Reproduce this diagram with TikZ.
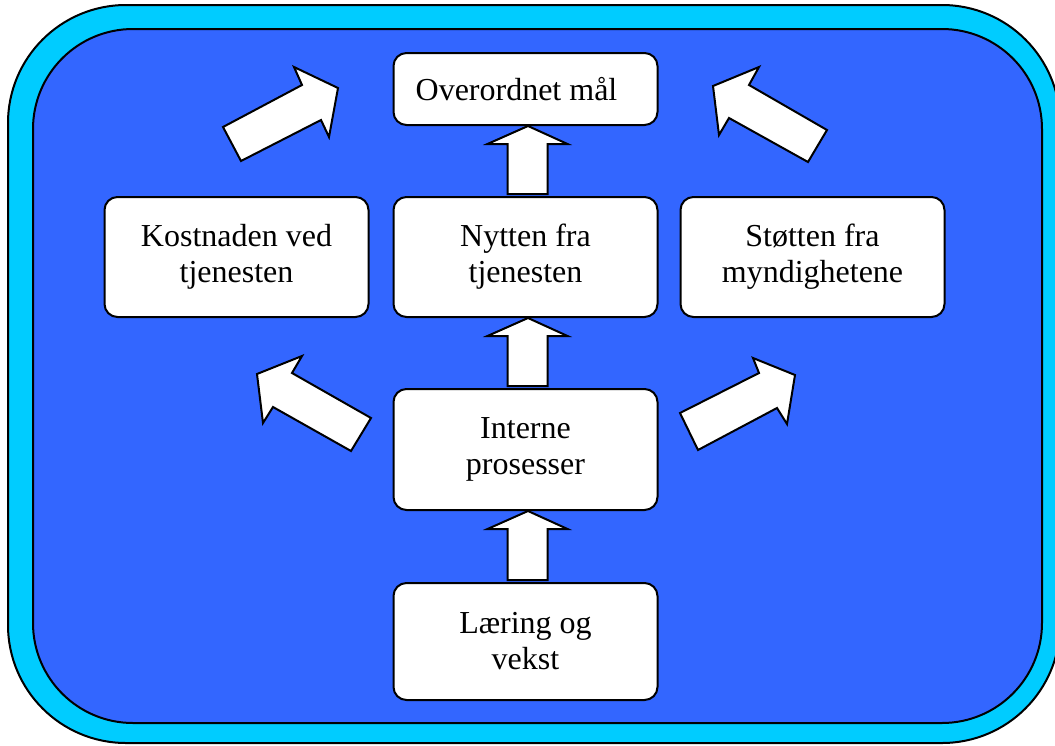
\documentclass[tikz,border=0pt]{standalone}
\usepackage{fontspec}
\setmainfont{Liberation Serif}
\usetikzlibrary{calc}
\definecolor{frameCyan}{HTML}{00CCFF}
\definecolor{panelBlue}{HTML}{3366FF}
\begin{document}
\begin{tikzpicture}[x=1pt,y=-1pt,
  card/.style={draw=black, line width=2pt, fill=white, rounded corners=13pt,
    minimum width=264pt, minimum height=120pt, align=center,
    font=\fontsize{32}{36}\selectfont, inner sep=0pt},
  blockarrow/.style={draw=black, line width=2pt, fill=white, line join=miter}]
\useasboundingbox (0,0) rectangle (1055,745);

% frame and panel
\draw[line width=2pt, fill=frameCyan, rounded corners=118pt] (8,5) rectangle (1060,743);
\draw[line width=2pt, fill=panelBlue, rounded corners=100pt] (33,29) rectangle (1042,723);

% boxes
\node[card, minimum height=72pt] (goal) at (525.5,89) {\hspace*{-18pt}Overordnet mål};
\node[card] (cost)    at (236.5,257) {Kostnaden ved\\tjenesten};
\node[card] (benefit) at (525.5,257) {Nytten fra\\tjenesten};
\node[card] (support) at (812.5,257) {Støtten fra\\myndighetene};
\node[card, minimum height=121pt] (internal) at (525.5,449.5) {Interne\\prosesser};
\node[card, minimum height=117pt] (learning) at (525.5,641.5) {Læring og\\vekst};

% vertical block arrows between stacked boxes
\foreach \lo/\hi in {benefit/goal, internal/benefit, learning/internal}{
  \draw[blockarrow]
    ($(\lo.north)+(-18,-2)$) -- ($(\hi.south)+(-18,18)$) -- ($(\hi.south)+(-38,18)$)
    -- ($(\hi.south)+(2.5,0)$) -- ($(\hi.south)+(42,18)$) -- ($(\hi.south)+(22,18)$)
    -- ($(\lo.north)+(22,-2)$) -- cycle;
}

% diagonal block arrows
\draw[blockarrow] (223,127) -- (302,85) -- (294,67) -- (338,88) -- (329,137) -- (321,120) -- (241,161) -- cycle;
\draw[blockarrow] (713,86) -- (759,67) -- (749,85) -- (827,130) -- (808,162) -- (729,118) -- (719,135) -- cycle;
\draw[blockarrow] (257,374) -- (302,356) -- (292,373) -- (371,418) -- (351,451) -- (273,407) -- (263,423) -- cycle;
\draw[blockarrow] (680,413) -- (759,373) -- (753,358) -- (795,375) -- (787,424) -- (777,408) -- (698,450) -- cycle;
\end{tikzpicture}
\end{document}
